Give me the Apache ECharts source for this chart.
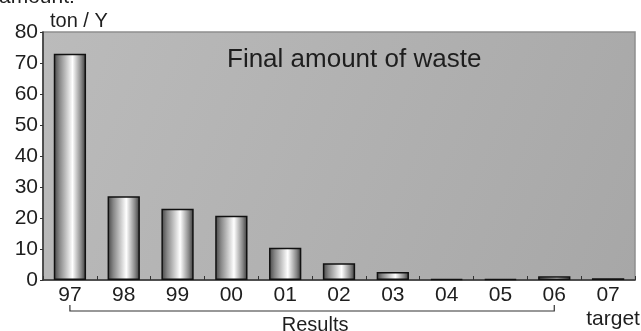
<!DOCTYPE html>
<html>
<head>
<meta charset="utf-8">
<script src="https://cdn.jsdelivr.net/npm/echarts@6/dist/echarts.min.js"></script>
<style>
html,body{margin:0;padding:0;background:#fff;}
#c{width:641px;height:331px;}
</style>
</head>
<body>
<div id="c"></div>
<script>
const categories = ['97','98','99','00','01','02','03','04','05','06','07'];
const wasteValues = [73, 27, 23, 20.7, 10.4, 5.4, 2.6, 0.25, 0.25, 1.2, 0.6];
const yTicks = {min: 0, max: 80, interval: 10};
const titleText = 'Final amount of waste';
const unitText = 'ton / Y';
const resultsLabel = 'Results';
const targetLabel = 'target';
const resultsRange = ['97', '06'];

const FONT = '"Liberation Sans", Arial, Helvetica, sans-serif';
const TXT = '#1e1e1e';

const chart = echarts.init(document.getElementById('c'), null, {renderer: 'canvas'});

const barGradient = new echarts.graphic.LinearGradient(0, 0, 1, 0, [
  {offset: 0, color: '#444444'},
  {offset: 0.18, color: '#888888'},
  {offset: 0.58, color: '#ffffff'},
  {offset: 0.85, color: '#888888'},
  {offset: 1, color: '#363636'}
]);
const bgGradient = new echarts.graphic.LinearGradient(0, 0, 1, 1, [
  {offset: 0, color: '#bbbbbb'},
  {offset: 1, color: '#a7a7a7'}
]);

chart.setOption({
  animation: false,
  backgroundColor: '#ffffff',
  textStyle: {fontFamily: FONT, color: TXT},
  title: {
    text: titleText,
    left: 227, top: 47, padding: 0,
    textStyle: {fontFamily: FONT, fontSize: 26, fontWeight: 'normal', color: TXT}
  },
  grid: {
    left: 43, right: 6, top: 32, bottom: 51,
    show: true, backgroundColor: bgGradient, borderColor: '#8f8f8f', borderWidth: 1.5
  },
  xAxis: {
    type: 'category',
    data: categories,
    boundaryGap: true,
    axisLine: {show: true, lineStyle: {color: '#333', width: 1.5}},
    axisTick: {show: true, inside: true, length: 4, lineStyle: {color: '#333', width: 1}},
    axisLabel: {fontFamily: FONT, fontSize: 21, color: TXT, margin: 5}
  },
  yAxis: {
    type: 'value',
    min: yTicks.min, max: yTicks.max, interval: yTicks.interval,
    name: unitText,
    nameLocation: 'end',
    nameGap: 1,
    nameTextStyle: {fontFamily: FONT, fontSize: 20, color: TXT, align: 'left', verticalAlign: 'bottom', padding: [0, 0, 0, 7]},
    splitLine: {show: false},
    axisLine: {show: true, lineStyle: {color: '#333', width: 1.5}},
    axisTick: {show: true, inside: false, length: 3, lineStyle: {color: '#333'}},
    axisLabel: {fontFamily: FONT, fontSize: 21, color: TXT, margin: 5}
  },
  series: [{
    type: 'bar',
    data: wasteValues,
    barWidth: '60%',
    itemStyle: {color: barGradient, borderColor: '#111', borderWidth: 1.5}
  }]
});

function drawAnnotations() {
  const x0 = chart.convertToPixel({xAxisIndex: 0}, resultsRange[0]);
  const x1 = chart.convertToPixel({xAxisIndex: 0}, resultsRange[1]);
  const xt = chart.convertToPixel({xAxisIndex: 0}, categories[categories.length - 1]);
  const yb = 311, ytop = 305;
  chart.setOption({
    graphic: [
      {type: 'polyline', silent: true,
       shape: {points: [[x0, ytop], [x0, yb], [x1, yb], [x1, ytop]]},
       style: {stroke: '#333', lineWidth: 1.2, fill: null}},
      {type: 'text', silent: true, x: (x0 + x1) / 2 + 3, y: 315,
       style: {text: resultsLabel, font: '20px ' + FONT, fill: TXT, align: 'center', verticalAlign: 'top'}},
      {type: 'text', silent: true, x: xt + 5, y: 309,
       style: {text: targetLabel, font: '21px ' + FONT, fill: TXT, align: 'center', verticalAlign: 'top'}},
      {type: 'text', silent: true, x: -1, y: 8,
       style: {text: 'amount:', font: '21px ' + FONT, fill: TXT, align: 'left', verticalAlign: 'bottom'}}
    ]
  });
}
drawAnnotations();
</script>
</body>
</html>
